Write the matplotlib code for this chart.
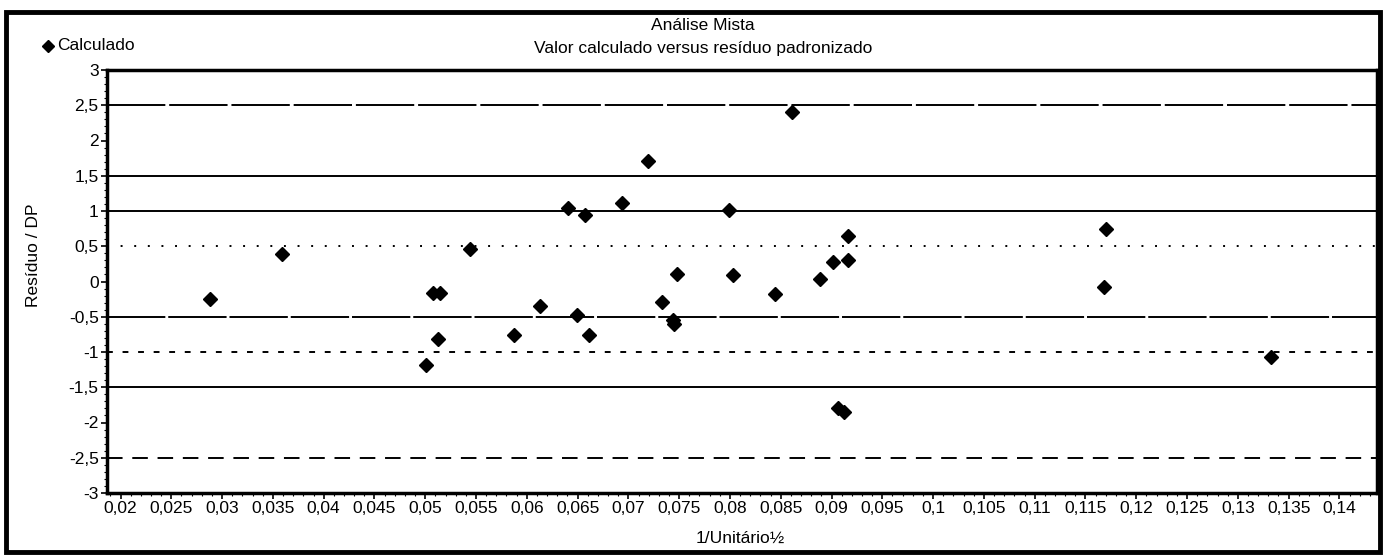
import matplotlib
matplotlib.use("Agg")
import matplotlib.pyplot as plt
from matplotlib.patches import Rectangle
from matplotlib.lines import Line2D
from matplotlib.ticker import FixedLocator, MultipleLocator

plt.rcParams['font.family'] = ['Liberation Sans', 'DejaVu Sans']

# ---- data ----
x_calc = [0.0288, 0.0359, 0.0501, 0.0508, 0.0515, 0.0513, 0.0544, 0.0587, 0.0613,
          0.0641, 0.0649, 0.0657, 0.0661, 0.0694, 0.0719, 0.0733, 0.0744, 0.0745,
          0.0748, 0.0799, 0.0803, 0.0844, 0.0861, 0.0889, 0.0901, 0.0906, 0.0912,
          0.0916, 0.0916, 0.1168, 0.1170, 0.1333]
y_resid = [-0.25, 0.39, -1.19, -0.17, -0.17, -0.81, 0.46, -0.76, -0.35,
           1.04, -0.475, 0.94, -0.76, 1.12, 1.71, -0.295, -0.55, -0.60,
           0.11, 1.01, 0.09, -0.18, 2.41, 0.04, 0.28, -1.80, -1.85,
           0.31, 0.64, -0.08, 0.745, -1.075]

ref_levels = [2.5, 1.5, 1.0, 0.5, -0.5, -1.0, -1.5, -2.5]
ref_styles = [(0, (30, 2)), '-', '-', (0, (1, 6)), (0, (30, 1.5)), (0, (3, 5)), '-', (0, (8, 5))]

xtick_values = [0.02, 0.025, 0.03, 0.035, 0.04, 0.045, 0.05, 0.055, 0.06, 0.065, 0.07,
                0.075, 0.08, 0.085, 0.09, 0.095, 0.1, 0.105, 0.11, 0.115, 0.12, 0.125,
                0.13, 0.135, 0.14]
xtick_labels = ['0,02', '0,025', '0,03', '0,035', '0,04', '0,045', '0,05', '0,055', '0,06',
                '0,065', '0,07', '0,075', '0,08', '0,085', '0,09', '0,095', '0,1', '0,105',
                '0,11', '0,115', '0,12', '0,125', '0,13', '0,135', '0,14']
ytick_values = [3, 2.5, 2, 1.5, 1, 0.5, 0, -0.5, -1, -1.5, -2, -2.5, -3]
ytick_labels = ['3', '2,5', '2', '1,5', '1', '0,5', '0', '-0,5', '-1', '-1,5', '-2', '-2,5', '-3']

title1 = 'Análise Mista'
title2 = 'Valor calculado versus resíduo padronizado'
legend_label = 'Calculado'
xlabel = '1/Unitário½'
ylabel = 'Resíduo / DP'

# ---- figure ----
W, H = 1385, 557
fig = plt.figure(figsize=(W / 100, H / 100), dpi=100)
fig.patch.set_facecolor('white')

L, R, T, B = 107, 1377, 70, 493
ax = fig.add_axes([L / W, 1 - B / H, (R - L) / W, (B - T) / H])

for lvl, ls in zip(ref_levels, ref_styles):
    ax.axhline(lvl, color='black', lw=1.4, linestyle=ls, zorder=1)

ax.plot(x_calc, y_resid, linestyle='none', marker='D', markersize=7,
        color='black', zorder=3)

ax.set_xlim(0.01867, 0.1437)
ax.set_ylim(-3, 3)
ax.xaxis.set_major_locator(FixedLocator(xtick_values))
ax.set_xticklabels(xtick_labels)
ax.yaxis.set_major_locator(FixedLocator(ytick_values))
ax.set_yticklabels(ytick_labels)
ax.xaxis.set_minor_locator(MultipleLocator(0.001))
ax.yaxis.set_minor_locator(MultipleLocator(0.1))
ax.tick_params(axis='both', which='major', direction='out', length=4, width=1.2,
               labelsize=12.5, colors='black', pad=2)
ax.tick_params(axis='both', which='minor', direction='out', length=2, width=0.8)
for side in ['left', 'bottom', 'top', 'right']:
    ax.spines[side].set_linewidth(2.5)

fig.text(740 / W, 1 - 538 / H, xlabel, ha='center', va='center', fontsize=12.5)
fig.text(33 / W, 1 - 255 / H, ylabel, ha='center', va='center', rotation=90, fontsize=12.5)

fig.text(703 / W, 1 - 25 / H, title1, ha='center', va='center', fontsize=12.5)
fig.text(703 / W, 1 - 49 / H, title2, ha='center', va='center', fontsize=12.5)

fig.add_artist(Line2D([48 / W], [1 - 46 / H], marker='D', markersize=6,
                      color='black', linestyle='none', transform=fig.transFigure))
fig.text(57 / W, 1 - 46 / H, legend_label, ha='left', va='center', fontsize=12.5)

fig.add_artist(Rectangle((6 / W, 1 - 552 / H), (1380 - 6) / W, (552 - 12) / H,
                         transform=fig.transFigure, fill=False, lw=3.5,
                         edgecolor='black'))

fig.savefig('out.png', dpi=100)
